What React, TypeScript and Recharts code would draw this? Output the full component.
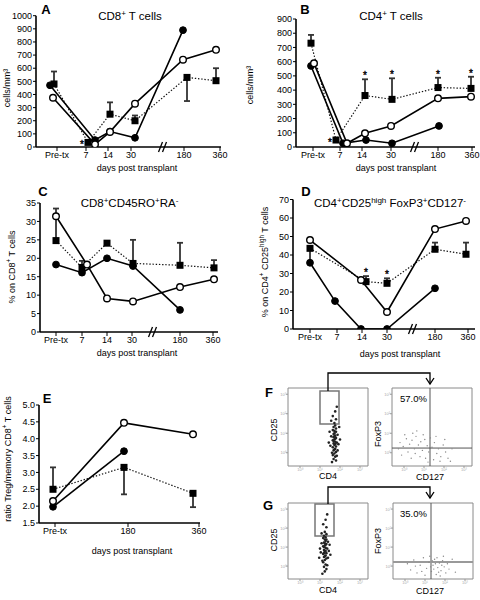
import React from 'react'
import {
  LineChart,
  Line,
  XAxis,
  YAxis,
  ErrorBar,
  ReferenceLine,
  ReferenceArea,
  ScatterChart,
  Scatter,
} from 'recharts'

const FONT = '"Liberation Sans", Arial, Helvetica, sans-serif'
const W = 480
const H = 600
const AXW = 30 // room reserved for axis ticks inside the margins

// ---- categories / ticks ----
const days = ['Pre-tx', '7', '14', '30', '180', '360']
const ratioDays = ['Pre-tx', '180', '360']
const cd8Ticks = [0, 100, 200, 300, 400, 500, 600, 700, 800, 900, 1000]
const cd4Ticks = [0, 100, 200, 300, 400, 500, 600, 700, 800, 900]
const memTicks = [0, 5, 10, 15, 20, 25, 30, 35]
const tregTicks = [0, 10, 20, 30, 40, 50, 60, 70]
const ratioTicks = [1.5, 2, 2.5, 3, 3.5, 4, 4.5, 5]

// ---- A: CD8+ T cells (cells/mm3) ----
const cd8Closed = [470, 53, 118, 70, 890, null]
const cd8Open = [375, 20, 115, 330, 665, 740]
const cd8Square = [480, 35, 250, 200, 530, 505]
const cd8SquareErr = [[0, 95], [0, 0], [0, 90], [0, 40], [180, 0], [0, 95]]
const cd8Stars = ['', 'left', '', '', '', '']

// ---- B: CD4+ T cells (cells/mm3) ----
const cd4Closed = [570, 26, 49, 26, 148, null]
const cd4Open = [588, 26, 96, 148, 342, 354]
const cd4Square = [730, 49, 362, 335, 418, 412]
const cd4SquareErr = [[0, 58], [0, 0], [0, 114], [0, 148], [0, 69], [0, 82]]
const cd4Stars = ['', 'left', 'top', 'top', 'top', 'top']

// ---- C: CD8+CD45RO+RA- (% of CD8+) ----
const memClosed = [18.3, 16.1, 20, 17.9, 6, null]
const memOpen = [31.4, 18.3, 9.1, 8.3, 12.2, 14.3]
const memSquare = [24.8, 17.5, 24.1, 18.6, 18.1, 17.4]
const memSquareErr = [[0, 8.7], [0, 1.8], [0, 0], [0, 6.4], [0, 6.1], [0, 2.1]]
const memStars = ['', '', '', '', '', '']

// ---- D: CD4+CD25high FoxP3+CD127- (% of CD4+CD25high) ----
const tregClosed = [35.8, 15.1, 0, 0, 22, null]
const tregOpen = [48.1, null, 26.5, 9.2, 54, 58.4]
const tregSquare = [43.6, null, 25.6, 24.7, 43.1, 40.4]
const tregSquareErr = [[7, 0], [0, 0], [0, 3], [0, 2.7], [0, 3.6], [0, 6.3]]
const tregStars = ['', '', 'top', 'top', '', '']

// ---- E: ratio Treg / memory CD8 ----
const ratioClosed = [1.98, 3.63, null]
const ratioOpen = [2.15, 4.47, 4.13]
const ratioSquare = [2.5, 3.15, 2.38]
const ratioSquareErr = [[0, 0.65], [0.8, 0], [0.41, 0]]
const ratioStars = ['', '', '']

// ---- F / G flow plots (percent of frame) ----
const decadeLabels = ['10⁰', '10¹', '10²', '10³']
const fCd4Cloud = [
  [58, 42], [59, 39], [57, 37], [60, 36], [58, 34], [56, 33], [59, 31], [61, 30], [57, 29], [58, 27],
  [60, 25], [56, 24], [59, 22], [57, 20], [60, 18], [58, 16], [56, 14], [59, 12], [57, 9], [60, 7],
  [55, 5], [58, 45], [60, 48], [57, 50], [59, 52], [56, 46], [62, 40], [54, 38], [63, 28], [53, 26],
  [62, 20], [55, 17], [61, 13], [58, 55], [60, 60], [56, 64], [59, 70], [61, 76], [54, 58], [64, 50],
  [52, 44], [65, 34], [51, 30], [58, 38], [59, 28], [57, 32], [60, 44], [58, 21], [59, 35], [57, 41],
]
const gCd4Cloud = [
  [46, 52], [47, 50], [45, 48], [48, 46], [46, 44], [44, 43], [47, 41], [49, 40], [45, 38], [46, 36],
  [48, 34], [44, 33], [47, 31], [45, 29], [48, 27], [46, 25], [44, 22], [47, 19], [45, 16], [48, 13],
  [46, 10], [43, 7], [47, 55], [45, 57], [48, 59], [44, 54], [50, 49], [42, 47], [51, 37], [41, 35],
  [50, 28], [43, 24], [49, 18], [46, 62], [48, 68], [44, 72], [47, 78], [49, 85], [42, 60], [52, 45],
  [40, 40], [53, 32], [39, 28], [46, 47], [47, 37], [45, 42], [48, 52], [46, 30], [47, 45], [45, 34],
]
const fFoxCloud = [
  [10, 30], [14, 25], [18, 35], [22, 28], [25, 33], [28, 22], [30, 38], [33, 27], [36, 31], [38, 20],
  [41, 34], [44, 26], [46, 18], [20, 18], [16, 40], [26, 42], [35, 12], [42, 10], [50, 24], [53, 30],
  [56, 16], [58, 22], [61, 12], [64, 27], [52, 8], [60, 6], [67, 18], [70, 10], [75, 22], [12, 14],
  [24, 10], [31, 45], [39, 40], [48, 36], [55, 38], [8, 22], [66, 34], [73, 6], [45, 5], [29, 16],
]
const gFoxCloud = [
  [18, 20], [22, 12], [26, 25], [30, 8], [34, 18], [38, 28], [42, 14], [45, 22], [48, 10], [50, 18],
  [52, 26], [54, 6], [56, 15], [58, 21], [60, 11], [62, 24], [64, 16], [66, 8], [68, 20], [70, 13],
  [74, 26], [78, 9], [46, 30], [40, 5], [36, 10], [28, 17], [55, 28], [59, 4], [63, 30], [51, 13],
  [57, 9], [53, 20], [61, 18], [49, 24], [47, 16],
]

// ---- layout (page pixels) ----
const layoutA = {
  x0: 36, x1: 221, y0: 15.7, y1: 147, breakX: 163,
  tickX: [57, 86, 108, 131, 184, 220],
  closedX: [50, 95, 110, 135, 183, null],
  openX: [53, 95, 110, 135, 183, 216],
  squareX: [54, 88, 110, 135, 187, 216],
}
const layoutB = {
  x0: 296, x1: 475, y0: 19, y1: 147, breakX: 415,
  tickX: [313, 340, 362, 391, 438, 472],
  closedX: [311, 343, 366, 392, 439, null],
  openX: [314, 347, 365, 391, 438, 471],
  squareX: [311, 336, 365, 392, 438, 471],
}
const layoutC = {
  x0: 40, x1: 218, y0: 203, y1: 332, breakX: 153,
  tickX: [56, 82, 107, 132, 180, 213],
  closedX: [56, 82, 107, 133, 180, null],
  openX: [56, 87, 107, 133, 180, 214],
  squareX: [56, 82, 107, 133, 180, 214],
}
const layoutD = {
  x0: 293, x1: 475, y0: 199.5, y1: 329, breakX: 413,
  tickX: [310, 337, 362, 387, 435, 468],
  closedX: [310, 335, 361, 387, 435, null],
  openX: [310, null, 361, 387, 435, 466],
  squareX: [310, null, 366, 387, 435, 466],
}
const layoutE = {
  x0: 39, x1: 200, y0: 405, y1: 523, breakX: null,
  tickX: [55, 128, 199],
  closedX: [53, 124, null],
  openX: [53, 124, 193],
  squareX: [53, 124, 193],
}

function build(xs: (number | null)[], vals: (number | null)[], errs?: number[][]) {
  const out: any[] = []
  vals.forEach((v, i) => {
    const x = xs[i]
    if (v == null || x == null) return
    out.push(errs ? { x, y: v, err: errs[i] } : { x, y: v })
  })
  return out
}

const squareDot = (p: any) => (
  <rect key={`q${p.index}`} x={p.cx - 3.5} y={p.cy - 3.5} width={7} height={7} fill="#000" />
)

const starDot = (p: any) => (
  <text
    key={`s${p.index}`}
    x={p.cx}
    y={p.cy + (p.payload.kind === 'left' ? 6 : 0)}
    textAnchor="middle"
    fontSize={10}
    fontFamily={FONT}
    fill="#000"
    stroke="#000"
    strokeWidth={0.35}
  >
    *
  </text>
)

interface PanelProps {
  layout: any
  labels: string[]
  yTicks: number[]
  closed: (number | null)[]
  open: (number | null)[]
  square: (number | null)[]
  squareErr: number[][]
  stars: string[]
  fmt?: (v: number) => string
}

function TimePanel({ layout, labels, yTicks, closed, open, square, squareErr, stars, fmt }: PanelProps) {
  const yMin = yTicks[0]
  const yMax = yTicks[yTicks.length - 1]
  const unitsPerPx = (yMax - yMin) / (layout.y1 - layout.y0)
  const h = 5 * unitsPerPx
  const starData: any[] = []
  stars.forEach((s, i) => {
    const v = square[i]
    const x = layout.squareX[i]
    if (!s || v == null || x == null) return
    starData.push({
      x: s === 'left' ? x - 6 : x,
      y: s === 'top' ? v + squareErr[i][1] : v,
      kind: s,
    })
  })
  const tickStyle = { fill: '#000', fontSize: 9, fontFamily: FONT }
  return (
    <div style={{ position: 'absolute', left: 0, top: 0 }}>
      <LineChart
        width={W}
        height={H}
        margin={{
          left: layout.x0 - AXW,
          right: W - layout.x1,
          top: layout.y0,
          bottom: H - layout.y1 - AXW,
        }}
      >
        <XAxis
          type="number"
          dataKey="x"
          domain={[layout.x0, layout.x1]}
          ticks={layout.tickX}
          tickFormatter={(_v: number, i: number) => labels[i]}
          interval={0}
          allowDataOverflow
          height={AXW}
          tickSize={4}
          tickMargin={1}
          stroke="#000"
          axisLine={{ strokeWidth: 1.6 }}
          tick={tickStyle}
        />
        <YAxis
          type="number"
          dataKey="y"
          domain={[yMin, yMax]}
          ticks={yTicks}
          tickFormatter={fmt}
          interval={0}
          allowDataOverflow
          width={AXW}
          tickSize={3}
          tickMargin={1}
          stroke="#000"
          axisLine={{ strokeWidth: 1.6 }}
          tick={tickStyle}
        />
        {layout.breakX != null && (
          <ReferenceLine
            segment={[{ x: layout.breakX - 4.5, y: yMin - h }, { x: layout.breakX - 0.5, y: yMin + h }]}
            stroke="#000"
            strokeWidth={1.3}
            ifOverflow="visible"
          />
        )}
        {layout.breakX != null && (
          <ReferenceLine
            segment={[{ x: layout.breakX - 0.5, y: yMin - h }, { x: layout.breakX + 3.5, y: yMin + h }]}
            stroke="#000"
            strokeWidth={1.3}
            ifOverflow="visible"
          />
        )}
        <Line
          data={build(layout.squareX, square, squareErr)}
          dataKey="y"
          stroke="#111"
          strokeWidth={1.2}
          strokeDasharray="1.4 1.8"
          dot={squareDot}
          activeDot={false}
          isAnimationActive={false}
        >
          <ErrorBar dataKey="err" width={3} strokeWidth={1.8} stroke="#333" direction="y" isAnimationActive={false} />
        </Line>
        <Line
          data={build(layout.closedX, closed)}
          dataKey="y"
          stroke="#000"
          strokeWidth={1.6}
          dot={{ r: 3.4, fill: '#000', stroke: '#000', strokeWidth: 1 }}
          activeDot={false}
          isAnimationActive={false}
        />
        <Line
          data={build(layout.openX, open)}
          dataKey="y"
          stroke="#000"
          strokeWidth={1.6}
          dot={{ r: 3.3, fill: '#fff', stroke: '#000', strokeWidth: 1.4 }}
          activeDot={false}
          isAnimationActive={false}
        />
        {starData.length > 0 && (
          <Line
            data={starData}
            dataKey="y"
            stroke="none"
            dot={starDot}
            activeDot={false}
            isAnimationActive={false}
          />
        )}
      </LineChart>
    </div>
  )
}

interface FlowProps {
  frame: { x0: number; x1: number; y0: number; y1: number }
  cloud: number[][]
  dotR: number
  dotFill: string
  gate?: number[]
  vLine?: number
  hLine?: number
  hStroke?: string
  hWidth?: number
}

function FlowPlot({ frame, cloud, dotR, dotFill, gate, vLine, hLine, hStroke, hWidth }: FlowProps) {
  const pts = cloud.map(([x, y]) => ({ x, y }))
  const tick = { fontSize: 4, fill: '#aaa', fontFamily: FONT }
  const FW = 12
  return (
    <div style={{ position: 'absolute', left: 0, top: 0 }}>
      <ScatterChart
        width={W}
        height={H}
        margin={{ left: frame.x0 - FW, right: W - frame.x1, top: frame.y0, bottom: H - frame.y1 - FW }}
      >
        <XAxis
          type="number"
          dataKey="x"
          domain={[0, 100]}
          ticks={[15, 40, 65, 90]}
          tickFormatter={(_v: number, i: number) => decadeLabels[i]}
          interval={0}
          height={FW}
          axisLine={false}
          tickSize={2}
          tickMargin={0}
          stroke="#999"
          tick={tick}
        />
        <YAxis
          type="number"
          dataKey="y"
          domain={[0, 100]}
          ticks={[17, 42, 67, 92]}
          tickFormatter={(_v: number, i: number) => decadeLabels[i]}
          interval={0}
          width={FW}
          axisLine={false}
          tickSize={2}
          tickMargin={0}
          stroke="#999"
          tick={tick}
        />
        <ReferenceArea x1={0} x2={100} y1={0} y2={100} fill="none" stroke="#8a8a8a" strokeWidth={1} ifOverflow="visible" />
        <Scatter
          data={pts}
          isAnimationActive={false}
          shape={(p: any) => <circle cx={p.cx} cy={p.cy} r={dotR} fill={dotFill} />}
        />
        {gate && (
          <ReferenceArea
            x1={gate[0]}
            x2={gate[1]}
            y1={gate[2]}
            y2={gate[3]}
            fill="none"
            stroke="#777"
            strokeWidth={1.5}
            ifOverflow="visible"
          />
        )}
        {vLine != null && <ReferenceLine x={vLine} stroke="#555" strokeWidth={1} />}
        {hLine != null && <ReferenceLine y={hLine} stroke={hStroke || '#555'} strokeWidth={hWidth || 1} />}
      </ScatterChart>
    </div>
  )
}

// text with superscripts: parts alternate normal / superscript
function Rich({ parts }: { parts: [string, boolean][] }) {
  let raised = false
  return (
    <>
      {parts.map(([t, sup], i) => {
        let dy = 0
        if (sup && !raised) { dy = -4; raised = true }
        else if (!sup && raised) { dy = 4; raised = false }
        return (
          <tspan key={i} dy={dy} fontSize={sup ? '70%' : undefined}>{t}</tspan>
        )
      })}
    </>
  )
}

export default function App() {
  const label = { fontFamily: FONT, fontSize: 9, fill: '#000' }
  const title = { fontFamily: FONT, fontSize: 11.5, fill: '#000' }
  const letter = { fontFamily: FONT, fontSize: 13, fontWeight: 700, fill: '#000' }
  const rot = (x: number, y: number) => `rotate(-90 ${x} ${y})`
  return (
    <div
      style={{
        position: 'absolute',
        left: 0,
        top: 0,
        width: W,
        height: H,
        background: '#fff',
        overflow: 'hidden',
      }}
    >
      <TimePanel layout={layoutA} labels={days} yTicks={cd8Ticks} closed={cd8Closed} open={cd8Open}
        square={cd8Square} squareErr={cd8SquareErr} stars={cd8Stars} />
      <TimePanel layout={layoutB} labels={days} yTicks={cd4Ticks} closed={cd4Closed} open={cd4Open}
        square={cd4Square} squareErr={cd4SquareErr} stars={cd4Stars} />
      <TimePanel layout={layoutC} labels={days} yTicks={memTicks} closed={memClosed} open={memOpen}
        square={memSquare} squareErr={memSquareErr} stars={memStars} />
      <TimePanel layout={layoutD} labels={days} yTicks={tregTicks} closed={tregClosed} open={tregOpen}
        square={tregSquare} squareErr={tregSquareErr} stars={tregStars} />
      <TimePanel layout={layoutE} labels={ratioDays} yTicks={ratioTicks} closed={ratioClosed} open={ratioOpen}
        square={ratioSquare} squareErr={ratioSquareErr} stars={ratioStars} fmt={(v) => v.toFixed(1)} />

      <FlowPlot frame={{ x0: 288, x1: 368, y0: 388, y1: 466 }} cloud={fCd4Cloud} dotR={1.3} dotFill="#222"
        gate={[40, 63.75, 53.8, 96]} />
      <FlowPlot frame={{ x0: 392, x1: 472, y0: 388, y1: 466 }} cloud={fFoxCloud} dotR={0.7} dotFill="#888"
        vLine={47.5} hLine={23} />
      <FlowPlot frame={{ x0: 288, x1: 368, y0: 503, y1: 579 }} cloud={gCd4Cloud} dotR={1.3} dotFill="#222"
        gate={[33.75, 57.5, 56.6, 98.7]} />
      <FlowPlot frame={{ x0: 393, x1: 473, y0: 503, y1: 579 }} cloud={gFoxCloud} dotR={0.7} dotFill="#888"
        vLine={47.5} hLine={22.4} hStroke="#999" hWidth={2} />

      <svg width={W} height={H} style={{ position: 'absolute', left: 0, top: 0, pointerEvents: 'none' }}>
        {/* panel letters */}
        <text x={46} y={14} textAnchor="middle" {...letter}>A</text>
        <text x={305} y={14} textAnchor="middle" {...letter}>B</text>
        <text x={43} y={196} textAnchor="middle" {...letter}>C</text>
        <text x={306} y={196} textAnchor="middle" {...letter}>D</text>
        <text x={47} y={403} textAnchor="middle" {...letter}>E</text>
        <text x={269} y={397} textAnchor="middle" {...letter}>F</text>
        <text x={268} y={510} textAnchor="middle" {...letter}>G</text>

        {/* titles */}
        <text x={130} y={19.5} textAnchor="middle" {...title}>
          <Rich parts={[['CD8', false], ['+', true], [' T cells', false]]} />
        </text>
        <text x={391} y={19.5} textAnchor="middle" {...title}>
          <Rich parts={[['CD4', false], ['+', true], [' T cells', false]]} />
        </text>
        <text x={129.5} y={207} textAnchor="middle" {...title}>
          <Rich parts={[['CD8', false], ['+', true], ['CD45RO', false], ['+', true], ['RA', false], ['-', true]]} />
        </text>
        <text x={390} y={207} textAnchor="middle" {...title}>
          <Rich parts={[['CD4', false], ['+', true], ['CD25', false], ['high', true], [' FoxP3', false], ['+', true], ['CD127', false], ['-', true]]} />
        </text>

        {/* y labels */}
        <text x={10} y={88} transform={rot(10, 88)} textAnchor="middle" {...label}>cells/mm³</text>
        <text x={253} y={85} transform={rot(253, 85)} textAnchor="middle" {...label}>cells/mm³</text>
        <text x={15} y={267} transform={rot(15, 267)} textAnchor="middle" {...label}>
          <Rich parts={[['% on CD8', false], ['+', true], [' T cells', false]]} />
        </text>
        <text x={268} y={262} transform={rot(268, 262)} textAnchor="middle" {...label}>
          <Rich parts={[['% on CD4', false], ['+', true], [' CD25', false], ['high', true], [' T cells', false]]} />
        </text>
        <text x={11} y={459} transform={rot(11, 459)} textAnchor="middle" {...label}>
          <Rich parts={[['ratio Treg/memory CD8', false], ['+', true], [' T cells', false]]} />
        </text>

        {/* x labels */}
        <text x={137} y={171} textAnchor="middle" {...label}>days post transplant</text>
        <text x={396} y={171} textAnchor="middle" {...label}>days post transplant</text>
        <text x={137} y={356} textAnchor="middle" {...label}>days post transplant</text>
        <text x={400} y={357} textAnchor="middle" {...label}>days post transplant</text>
        <text x={132} y={554} textAnchor="middle" {...label}>days post transplant</text>

        {/* flow labels */}
        <text x={277} y={430} transform={rot(277, 430)} textAnchor="middle" {...label}>CD25</text>
        <text x={277} y={540} transform={rot(277, 540)} textAnchor="middle" {...label}>CD25</text>
        <text x={381} y={434} transform={rot(381, 434)} textAnchor="middle" {...label}>FoxP3</text>
        <text x={381} y={541} transform={rot(381, 541)} textAnchor="middle" {...label}>FoxP3</text>
        <text x={328} y={479} textAnchor="middle" {...label}>CD4</text>
        <text x={430} y={480} textAnchor="middle" {...label}>CD127</text>
        <text x={328} y={593} textAnchor="middle" {...label}>CD4</text>
        <text x={430} y={594} textAnchor="middle" {...label}>CD127</text>
        <text x={400} y={402} {...label} fontSize={9.5}>57.0%</text>
        <text x={400} y={517} {...label} fontSize={9.5}>35.0%</text>

        {/* gate connectors */}
        <polyline points="328,391 328,373 430,373 430,384" fill="none" stroke="#000" strokeWidth={1.3} />
        <polyline points="426,378 430,384 434,378" fill="none" stroke="#000" strokeWidth={1.3} />
        <polyline points="328,504 328,487 430,487 430,498" fill="none" stroke="#000" strokeWidth={1.3} />
        <polyline points="426,492 430,498 434,492" fill="none" stroke="#000" strokeWidth={1.3} />
      </svg>
    </div>
  )
}
